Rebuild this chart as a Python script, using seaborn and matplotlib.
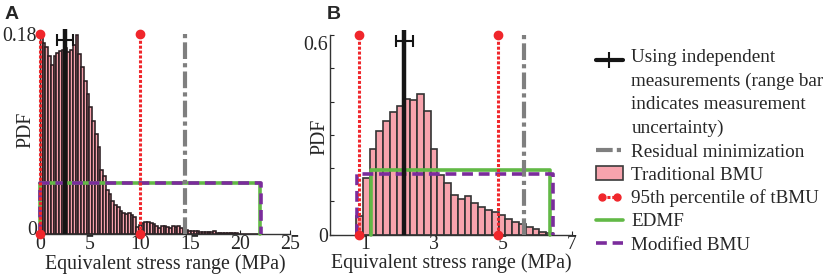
import numpy as np
import pandas as pd
import matplotlib.pyplot as plt
import seaborn as sns
from matplotlib.lines import Line2D
from matplotlib.patches import Patch
from matplotlib.legend_handler import HandlerLine2D
from matplotlib.transforms import ScaledTranslation

# Panel A: traditional BMU histogram (bin width 0.275 MPa, 0 to 22 MPa)
a_width = 0.275
a_pdf = [0.179, 0.172, 0.168, 0.160, 0.152, 0.160, 0.163, 0.165, 0.166, 0.167,
         0.164, 0.166, 0.170, 0.179, 0.162, 0.150, 0.138, 0.126, 0.114, 0.102,
         0.090, 0.078, 0.058, 0.052, 0.040, 0.036, 0.030, 0.026, 0.024, 0.021,
         0.019, 0.018, 0.019, 0.017, 0.015, 0.006, 0.008, 0.010, 0.011, 0.011,
         0.010, 0.009, 0.007, 0.005, 0.007, 0.007, 0.006, 0.005, 0.007, 0.006,
         0.007, 0.005, 0.004, 0.004, 0.003, 0.003, 0.003, 0.0025, 0.0022, 0.0022,
         0.002, 0.0018, 0.0015, 0.0028, 0.0012, 0.0008, 0.0007, 0.0007, 0.0006, 0.0006,
         0.0005, 0.0005, 0.0004, 0.0004, 0.0004, 0.0003, 0.0003, 0.0002, 0.0002, 0.0001]
a_measured = 2.5
a_measured_range = [1.7, 3.3]
a_p95 = [0.0, 10.0]
a_residual = 14.5
a_edmf = [0.0, 22.0, 0.046]
a_mbmu = [0.0, 22.1, 0.046]

# Panel B
b_start = 0.74
b_width = 0.197
b_pdf = [0.055, 0.170, 0.258, 0.312, 0.342, 0.369, 0.388, 0.407, 0.404, 0.424,
         0.372, 0.258, 0.178, 0.155, 0.118, 0.108, 0.115, 0.096, 0.082, 0.075,
         0.069, 0.059, 0.047, 0.039, 0.032, 0.024, 0.016, 0.009, 0.004]
b_measured = 2.13
b_measured_range = [1.9, 2.4]
b_p95 = [0.83, 4.86]
b_residual = 5.6
b_edmf = [1.18, 6.38, 0.193]
b_mbmu = [0.78, 6.44, 0.183]

labels = ["Using independent\nmeasurements (range bar\nindicates measurement\nuncertainty)",
          "Residual minimization", "Traditional BMU", "95th percentile of tBMU",
          "EDMF", "Modified BMU"]

pink = "#f7a3ad"
red = "#f0262b"
gray = "#7f7f7f"
green = "#62b946"
purple = "#7b2c9c"
FS = 14.3

sns.set_style("ticks")
plt.rcParams["font.family"] = ["Liberation Serif", "DejaVu Serif"]
plt.rcParams["xtick.direction"] = "in"
plt.rcParams["ytick.direction"] = "in"

fig = plt.figure(figsize=(8.24, 2.76), dpi=100)
axA = fig.add_axes([0.0485, 0.152, 0.3034, 0.725])
axB = fig.add_axes([0.401, 0.1496, 0.293, 0.7236])


def panel(ax, start, width, pdf, measured, mrange, ytop, p95, residual, edmf, mbmu, lw_edge, edge):
    edges = [start + width * i for i in range(len(pdf) + 1)]
    df = pd.DataFrame({"x": [e + width / 2 for e in edges[:-1]], "w": pdf})
    sns.histplot(data=df, x="x", weights="w", bins=edges, stat="count", color=pink,
                 edgecolor=edge, linewidth=lw_edge, alpha=1, ax=ax, zorder=1)
    # modified BMU and EDMF boxes
    ax.plot([edmf[0], edmf[0], edmf[1], edmf[1]], [0, edmf[2], edmf[2], 0],
            color=green, lw=2.6, zorder=3, clip_on=False)
    ax.plot([mbmu[0], mbmu[0], mbmu[1], mbmu[1]], [0, mbmu[2], mbmu[2], 0],
            color=purple, lw=2.6, ls=(0, (3, 1.6)), zorder=4, clip_on=False)
    # residual minimization
    ax.plot([residual, residual], [0, ytop * 1.01], color=gray, lw=3,
            ls=(0, (4, 1, 1, 1)), zorder=5, clip_on=False)
    # 95th percentile
    for xp in p95:
        ax.plot([xp, xp], [0, ytop], color=red, lw=2.2, ls=(0, (1, 0.6)),
                marker="o", ms=6, zorder=6, clip_on=False)
    # measurement
    ax.plot([measured, measured], [0, ytop * 1.025], color="#151515", lw=3.2,
            zorder=7, clip_on=False, solid_capstyle="butt")
    ax.errorbar(measured, ytop * 0.97, xerr=[[measured - mrange[0]], [mrange[1] - measured]],
                fmt="none", ecolor="#151515", elinewidth=1.5, capsize=4, capthick=1.5,
                zorder=8, clip_on=False)
    ax.set_ylim(0, ytop)
    ax.set_xlabel("Equivalent stress range (MPa)", fontsize=FS, labelpad=0)
    ax.set_ylabel("PDF", fontsize=FS)
    ax.tick_params(labelsize=FS, length=3, width=0.8, pad=2)
    for s in ["top", "right"]:
        ax.spines[s].set_visible(False)
    for s in ["left", "bottom"]:
        ax.spines[s].set_color("#333333")
        ax.spines[s].set_linewidth(1.0)


def nudge(label, dy_px):
    label.set_transform(label.get_transform() + ScaledTranslation(0, dy_px / 100, fig.dpi_scale_trans))


panel(axA, 0.0, a_width, a_pdf, a_measured, a_measured_range, 0.18,
      a_p95, a_residual, a_edmf, a_mbmu, 1.15, "#2a1d21")
axA.set_xlim(0, 25)
axA.set_xticks([0, 5, 10, 15, 20, 25])
axA.set_yticks([0, 0.18])
axA.set_yticklabels(["0", "0.18"])
axA.yaxis.set_label_coords(-0.02, 0.52)
axA.tick_params(axis="x", pad=1)
nudge(axA.get_yticklabels()[0], 6)

panel(axB, b_start, b_width, b_pdf, b_measured, b_measured_range, 0.6,
      b_p95, b_residual, b_edmf, b_mbmu, 1.2, "#333333")
axB.set_xlim(0, 7)
axB.set_xticks([1, 3, 5, 7])
axB.set_yticks([0, 0.1, 0.2, 0.3, 0.4, 0.5, 0.6])
axB.set_yticklabels(["0", "", "", "", "", "", "0.6"])
axB.yaxis.set_label_coords(-0.006, 0.49)
axB.tick_params(axis="x", pad=0.5)
axB.xaxis.labelpad = -0.5
nudge(axB.get_yticklabels()[-1], -8)

fig.text(5 / 824, 1 - 6 / 276, "A", fontsize=14, fontweight="bold",
         family="Liberation Sans", va="top", ha="left")
fig.text(327 / 824, 1 - 6 / 276, "B", fontsize=14, fontweight="bold",
         family="Liberation Sans", va="top", ha="left")


class FirstLineHandler(HandlerLine2D):
    # puts the handle beside the first line of a wrapped label
    def __init__(self, shift, **kw):
        super().__init__(**kw)
        self.shift = shift

    def create_artists(self, legend, orig_handle, xdescent, ydescent, width, height, fontsize, trans):
        return super().create_artists(legend, orig_handle, xdescent, ydescent - 2 * self.shift,
                                      width, height, fontsize, trans)


h_meas = Line2D([], [], color="#151515", lw=3, marker="|", ms=11, mew=1.5)
h_res = Line2D([], [], color=gray, lw=3, ls=(0, (4, 1, 1, 1)))
h_trad = Patch(facecolor=pink, edgecolor="#3a3a3a", linewidth=1.2)
h_p95 = Line2D([], [], color=red, lw=2.2, ls=(0, (1, 0.6)), marker="o", ms=5)
h_edmf = Line2D([], [], color=green, lw=2.6)
h_mbmu = Line2D([], [], color=purple, lw=2.6, ls=(0, (3, 1.6)))
leg = fig.legend([h_meas, h_res, h_trad, h_p95, h_edmf, h_mbmu], labels,
                 loc="upper left", bbox_to_anchor=(596 / 824, 1 - 49 / 276),
                 frameon=False, fontsize=13.8, handlelength=1.4, handletextpad=0.45,
                 labelspacing=0.3, borderaxespad=0, borderpad=0,
                 handler_map={h_meas: FirstLineHandler(24.0, numpoints=1),
                              h_p95: HandlerLine2D(numpoints=2)})
leg.get_texts()[0].set_linespacing(1.5)

plt.savefig("out.png", dpi=100)
